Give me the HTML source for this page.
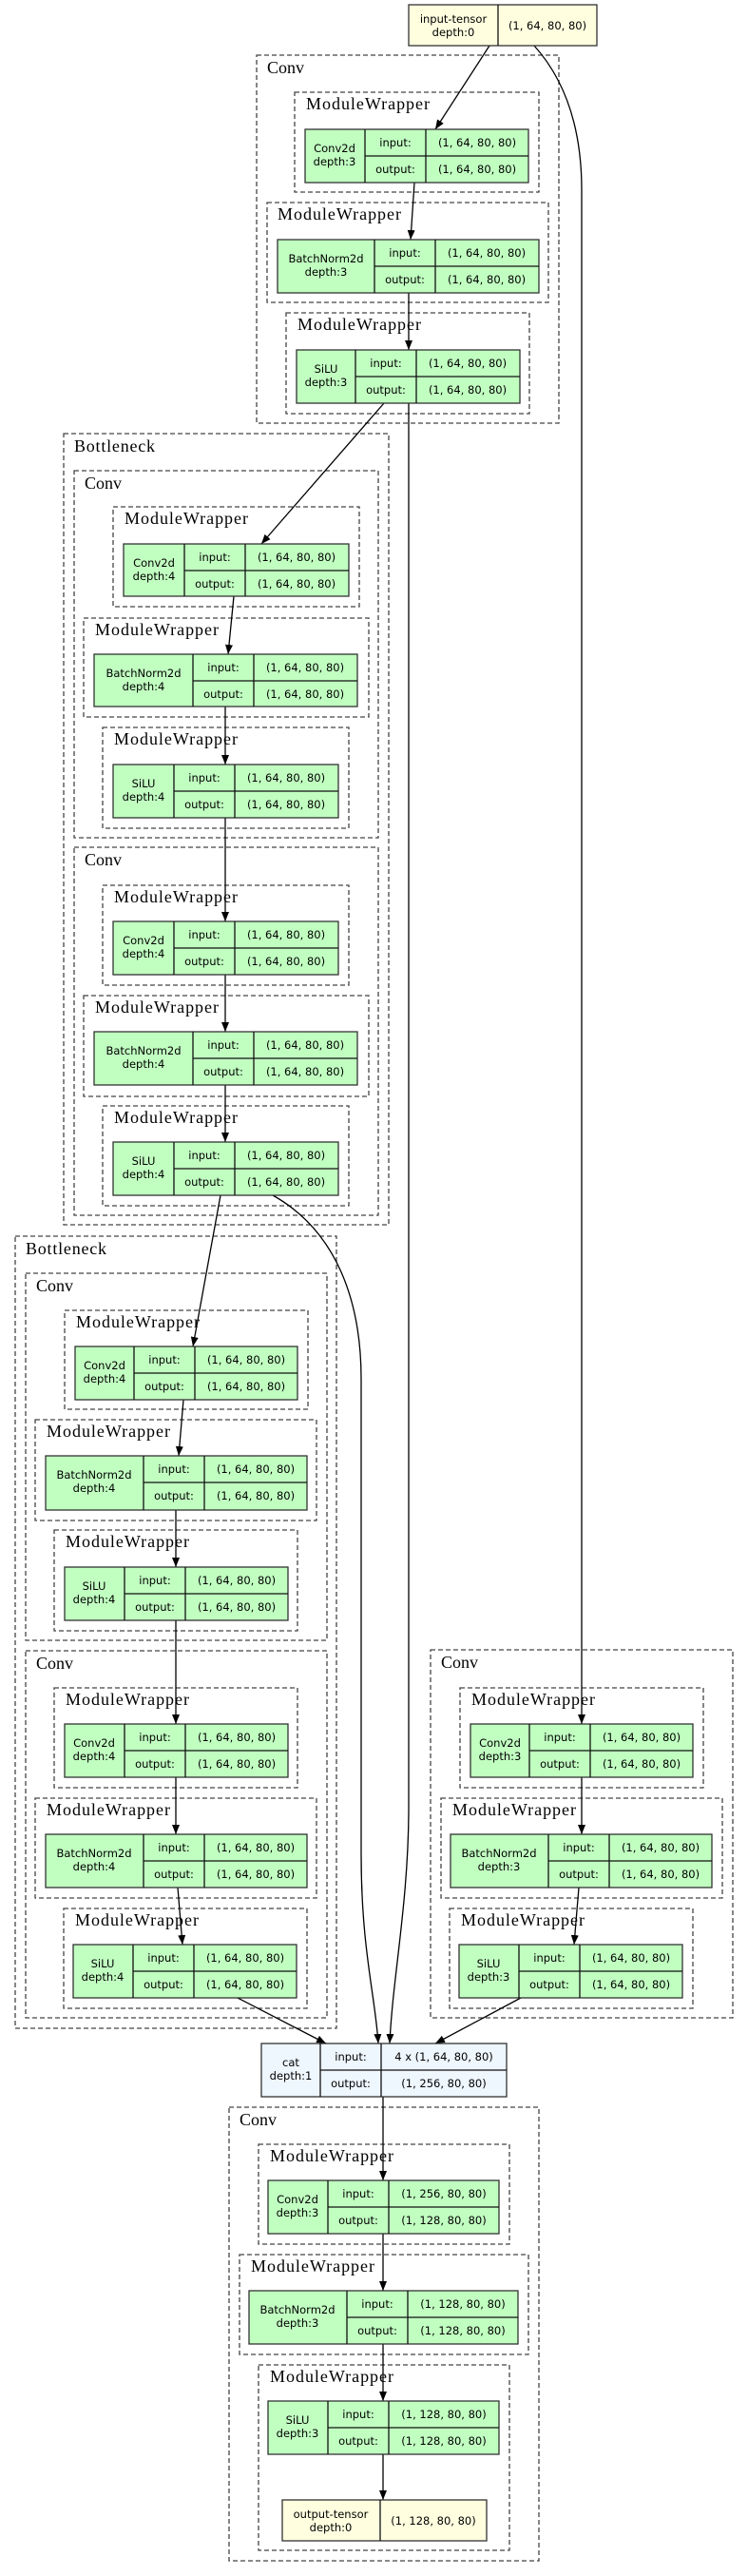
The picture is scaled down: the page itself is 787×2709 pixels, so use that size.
<!DOCTYPE html>
<html><head><meta charset="utf-8"><style>
html,body{margin:0;padding:0;background:#fff}
svg{display:block}
.cl{fill:none;stroke:#444;stroke-width:1.3;stroke-dasharray:5,3}
.ct{font-family:"Liberation Serif",serif;font-size:18px;fill:#000}
.nd{stroke:#333;stroke-width:1.3}
.dv{stroke:#111;stroke-width:1.3}
.t{font-family:"DejaVu Sans","Liberation Sans",sans-serif;font-size:11.5px;text-anchor:middle;fill:#000}
.e{fill:none;stroke:#000;stroke-width:1.3}
.g{fill:#c1ffc1}.y{fill:#ffffe0}.b{fill:#eef6fe}
</style></head><body>
<svg width="787" height="2709" viewBox="0 0 787 2709" xmlns="http://www.w3.org/2000/svg">
<defs><marker id="a" markerWidth="10" markerHeight="8" refX="10" refY="4" orient="auto" markerUnits="userSpaceOnUse"><path d="M0,0 L10,4 L0,8 z" fill="#000"/></marker></defs>

<!-- clusters -->
<rect class="cl" x="270" y="58" width="318" height="387"/><text class="ct" x="281" y="77">Conv</text>
<rect class="cl" x="310" y="97" width="257" height="105"/><text class="ct" x="322" y="115" textLength="130">ModuleWrapper</text>
<rect class="cl" x="281" y="213" width="296" height="105"/><text class="ct" x="292" y="231" textLength="130">ModuleWrapper</text>
<rect class="cl" x="301" y="329" width="256" height="106"/><text class="ct" x="313" y="347" textLength="130">ModuleWrapper</text>

<rect class="cl" x="67" y="456" width="342" height="832"/><text class="ct" x="78" y="475" textLength="85">Bottleneck</text>
<rect class="cl" x="78" y="495" width="320" height="386"/><text class="ct" x="89" y="514">Conv</text>
<rect class="cl" x="119" y="533" width="259" height="105"/><text class="ct" x="131" y="551" textLength="130">ModuleWrapper</text>
<rect class="cl" x="88" y="650" width="300" height="104"/><text class="ct" x="100" y="668" textLength="130">ModuleWrapper</text>
<rect class="cl" x="108" y="765" width="259" height="106"/><text class="ct" x="120" y="783" textLength="130">ModuleWrapper</text>
<rect class="cl" x="78" y="891" width="320" height="387"/><text class="ct" x="89" y="910">Conv</text>
<rect class="cl" x="108" y="931" width="259" height="105"/><text class="ct" x="120" y="949" textLength="130">ModuleWrapper</text>
<rect class="cl" x="88" y="1047" width="300" height="106"/><text class="ct" x="100" y="1065" textLength="130">ModuleWrapper</text>
<rect class="cl" x="108" y="1163" width="259" height="105"/><text class="ct" x="120" y="1181" textLength="130">ModuleWrapper</text>

<rect class="cl" x="16" y="1300" width="338" height="833"/><text class="ct" x="27" y="1319" textLength="85">Bottleneck</text>
<rect class="cl" x="27" y="1339" width="317" height="386"/><text class="ct" x="38" y="1358">Conv</text>
<rect class="cl" x="68" y="1378" width="256" height="104"/><text class="ct" x="80" y="1396" textLength="130">ModuleWrapper</text>
<rect class="cl" x="37" y="1493" width="296" height="106"/><text class="ct" x="49" y="1511" textLength="130">ModuleWrapper</text>
<rect class="cl" x="57" y="1609" width="256" height="106"/><text class="ct" x="69" y="1627" textLength="130">ModuleWrapper</text>
<rect class="cl" x="27" y="1736" width="317" height="386"/><text class="ct" x="38" y="1755">Conv</text>
<rect class="cl" x="57" y="1775" width="256" height="105"/><text class="ct" x="69" y="1793" textLength="130">ModuleWrapper</text>
<rect class="cl" x="37" y="1891" width="296" height="105"/><text class="ct" x="49" y="1909" textLength="130">ModuleWrapper</text>
<rect class="cl" x="67" y="2007" width="256" height="105"/><text class="ct" x="79" y="2025" textLength="130">ModuleWrapper</text>

<rect class="cl" x="453" y="1735" width="318" height="387"/><text class="ct" x="464" y="1754">Conv</text>
<rect class="cl" x="484" y="1775" width="256" height="105"/><text class="ct" x="496" y="1793" textLength="130">ModuleWrapper</text>
<rect class="cl" x="464" y="1891" width="296" height="105"/><text class="ct" x="476" y="1909" textLength="130">ModuleWrapper</text>
<rect class="cl" x="473" y="2007" width="256" height="105"/><text class="ct" x="485" y="2025" textLength="130">ModuleWrapper</text>

<rect class="cl" x="241" y="2216" width="326" height="477"/><text class="ct" x="252" y="2235">Conv</text>
<rect class="cl" x="272" y="2255" width="264" height="105"/><text class="ct" x="284" y="2273" textLength="130">ModuleWrapper</text>
<rect class="cl" x="252" y="2371" width="304" height="105"/><text class="ct" x="264" y="2389" textLength="130">ModuleWrapper</text>
<rect class="cl" x="272" y="2487" width="264" height="195"/><text class="ct" x="284" y="2505" textLength="130">ModuleWrapper</text>

<!-- edges -->
<g marker-end="url(#a)">
<path class="e" d="M515,48 L458,136"/>
<path class="e" d="M562,48 C598,88 612,140 612,200 L612,1813"/>
<path class="e" d="M436,192 L432,252"/>
<path class="e" d="M430,308 L430,368"/>
<path class="e" d="M404,424 L275,572"/>
<path class="e" d="M430,424 L430,1900 C430,2000 413,2080 410,2149"/>
<path class="e" d="M246,627 L240,688"/>
<path class="e" d="M237,743 L237,804"/>
<path class="e" d="M237,860 L237,969"/>
<path class="e" d="M237,1025 L237,1085"/>
<path class="e" d="M237,1141 L237,1201"/>
<path class="e" d="M232,1257 L203,1416"/>
<path class="e" d="M287,1257 C355,1295 380,1370 380,1450 L380,1950 C380,2050 395,2100 398,2149"/>
<path class="e" d="M193,1472 L188,1531"/>
<path class="e" d="M185,1588 L185,1648"/>
<path class="e" d="M185,1704 L185,1813"/>
<path class="e" d="M185,1869 L185,1929"/>
<path class="e" d="M187,1985 L192,2045"/>
<path class="e" d="M250,2101 L343,2149"/>
<path class="e" d="M612,1869 L612,1929"/>
<path class="e" d="M609,1985 L604,2045"/>
<path class="e" d="M548,2101 L458,2149"/>
<path class="e" d="M403,2205 L403,2293"/>
<path class="e" d="M403,2349 L403,2409"/>
<path class="e" d="M403,2465 L403,2525"/>
<path class="e" d="M403,2581 L403,2629"/>
</g>

<!-- input tensor -->
<rect class="nd y" x="430" y="5" width="198" height="43"/>
<line class="dv" x1="524" y1="5" x2="524" y2="48"/>
<text class="t" x="477" y="24">input-tensor</text><text class="t" x="477" y="38">depth:0</text>
<text class="t" x="576" y="31">(1, 64, 80, 80)</text>

<!-- node macro expanded: rect, dividers, texts -->
<!-- Top Conv -->
<g>
<rect class="nd g" x="321" y="136" width="235" height="56"/><line class="dv" x1="384" y1="136" x2="384" y2="192"/><line class="dv" x1="448" y1="136" x2="448" y2="192"/><line class="dv" x1="384" y1="164" x2="556" y2="164"/>
<text class="t" x="352" y="160">Conv2d</text><text class="t" x="352" y="174">depth:3</text><text class="t" x="416" y="154">input:</text><text class="t" x="416" y="182">output:</text><text class="t" x="502" y="154">(1, 64, 80, 80)</text><text class="t" x="502" y="182">(1, 64, 80, 80)</text>

<rect class="nd g" x="292" y="252" width="275" height="56"/><line class="dv" x1="394" y1="252" x2="394" y2="308"/><line class="dv" x1="458" y1="252" x2="458" y2="308"/><line class="dv" x1="394" y1="280" x2="567" y2="280"/>
<text class="t" x="343" y="276">BatchNorm2d</text><text class="t" x="343" y="290">depth:3</text><text class="t" x="426" y="270">input:</text><text class="t" x="426" y="298">output:</text><text class="t" x="512" y="270">(1, 64, 80, 80)</text><text class="t" x="512" y="298">(1, 64, 80, 80)</text>

<rect class="nd g" x="312" y="368" width="235" height="56"/><line class="dv" x1="374" y1="368" x2="374" y2="424"/><line class="dv" x1="438" y1="368" x2="438" y2="424"/><line class="dv" x1="374" y1="396" x2="547" y2="396"/>
<text class="t" x="343" y="392">SiLU</text><text class="t" x="343" y="406">depth:3</text><text class="t" x="406" y="386">input:</text><text class="t" x="406" y="414">output:</text><text class="t" x="492" y="386">(1, 64, 80, 80)</text><text class="t" x="492" y="414">(1, 64, 80, 80)</text>
</g>

<!-- Bottleneck 1 -->
<g>
<rect class="nd g" x="130" y="572" width="237" height="55"/><line class="dv" x1="194" y1="572" x2="194" y2="627"/><line class="dv" x1="258" y1="572" x2="258" y2="627"/><line class="dv" x1="194" y1="600" x2="367" y2="600"/>
<text class="t" x="162" y="596">Conv2d</text><text class="t" x="162" y="610">depth:4</text><text class="t" x="226" y="590">input:</text><text class="t" x="226" y="618">output:</text><text class="t" x="312" y="590">(1, 64, 80, 80)</text><text class="t" x="312" y="618">(1, 64, 80, 80)</text>

<rect class="nd g" x="99" y="688" width="277" height="55"/><line class="dv" x1="203" y1="688" x2="203" y2="743"/><line class="dv" x1="267" y1="688" x2="267" y2="743"/><line class="dv" x1="203" y1="716" x2="376" y2="716"/>
<text class="t" x="151" y="712">BatchNorm2d</text><text class="t" x="151" y="726">depth:4</text><text class="t" x="235" y="706">input:</text><text class="t" x="235" y="734">output:</text><text class="t" x="321" y="706">(1, 64, 80, 80)</text><text class="t" x="321" y="734">(1, 64, 80, 80)</text>

<rect class="nd g" x="119" y="804" width="237" height="56"/><line class="dv" x1="183" y1="804" x2="183" y2="860"/><line class="dv" x1="247" y1="804" x2="247" y2="860"/><line class="dv" x1="183" y1="832" x2="356" y2="832"/>
<text class="t" x="151" y="828">SiLU</text><text class="t" x="151" y="842">depth:4</text><text class="t" x="215" y="822">input:</text><text class="t" x="215" y="850">output:</text><text class="t" x="301" y="822">(1, 64, 80, 80)</text><text class="t" x="301" y="850">(1, 64, 80, 80)</text>

<rect class="nd g" x="119" y="969" width="237" height="56"/><line class="dv" x1="183" y1="969" x2="183" y2="1025"/><line class="dv" x1="247" y1="969" x2="247" y2="1025"/><line class="dv" x1="183" y1="997" x2="356" y2="997"/>
<text class="t" x="151" y="993">Conv2d</text><text class="t" x="151" y="1007">depth:4</text><text class="t" x="215" y="987">input:</text><text class="t" x="215" y="1015">output:</text><text class="t" x="301" y="987">(1, 64, 80, 80)</text><text class="t" x="301" y="1015">(1, 64, 80, 80)</text>

<rect class="nd g" x="99" y="1085" width="277" height="56"/><line class="dv" x1="203" y1="1085" x2="203" y2="1141"/><line class="dv" x1="267" y1="1085" x2="267" y2="1141"/><line class="dv" x1="203" y1="1113" x2="376" y2="1113"/>
<text class="t" x="151" y="1109">BatchNorm2d</text><text class="t" x="151" y="1123">depth:4</text><text class="t" x="235" y="1103">input:</text><text class="t" x="235" y="1131">output:</text><text class="t" x="321" y="1103">(1, 64, 80, 80)</text><text class="t" x="321" y="1131">(1, 64, 80, 80)</text>

<rect class="nd g" x="119" y="1201" width="237" height="56"/><line class="dv" x1="183" y1="1201" x2="183" y2="1257"/><line class="dv" x1="247" y1="1201" x2="247" y2="1257"/><line class="dv" x1="183" y1="1229" x2="356" y2="1229"/>
<text class="t" x="151" y="1225">SiLU</text><text class="t" x="151" y="1239">depth:4</text><text class="t" x="215" y="1219">input:</text><text class="t" x="215" y="1247">output:</text><text class="t" x="301" y="1219">(1, 64, 80, 80)</text><text class="t" x="301" y="1247">(1, 64, 80, 80)</text>
</g>

<!-- Bottleneck 2 -->
<g>
<rect class="nd g" x="79" y="1416" width="234" height="56"/><line class="dv" x1="141" y1="1416" x2="141" y2="1472"/><line class="dv" x1="205" y1="1416" x2="205" y2="1472"/><line class="dv" x1="141" y1="1444" x2="313" y2="1444"/>
<text class="t" x="110" y="1440">Conv2d</text><text class="t" x="110" y="1454">depth:4</text><text class="t" x="173" y="1434">input:</text><text class="t" x="173" y="1462">output:</text><text class="t" x="259" y="1434">(1, 64, 80, 80)</text><text class="t" x="259" y="1462">(1, 64, 80, 80)</text>

<rect class="nd g" x="48" y="1531" width="275" height="57"/><line class="dv" x1="151" y1="1531" x2="151" y2="1588"/><line class="dv" x1="215" y1="1531" x2="215" y2="1588"/><line class="dv" x1="151" y1="1559" x2="323" y2="1559"/>
<text class="t" x="99" y="1555">BatchNorm2d</text><text class="t" x="99" y="1569">depth:4</text><text class="t" x="183" y="1549">input:</text><text class="t" x="183" y="1577">output:</text><text class="t" x="269" y="1549">(1, 64, 80, 80)</text><text class="t" x="269" y="1577">(1, 64, 80, 80)</text>

<rect class="nd g" x="68" y="1648" width="235" height="56"/><line class="dv" x1="131" y1="1648" x2="131" y2="1704"/><line class="dv" x1="195" y1="1648" x2="195" y2="1704"/><line class="dv" x1="131" y1="1676" x2="303" y2="1676"/>
<text class="t" x="99" y="1672">SiLU</text><text class="t" x="99" y="1686">depth:4</text><text class="t" x="163" y="1666">input:</text><text class="t" x="163" y="1694">output:</text><text class="t" x="249" y="1666">(1, 64, 80, 80)</text><text class="t" x="249" y="1694">(1, 64, 80, 80)</text>

<rect class="nd g" x="68" y="1813" width="235" height="56"/><line class="dv" x1="131" y1="1813" x2="131" y2="1869"/><line class="dv" x1="195" y1="1813" x2="195" y2="1869"/><line class="dv" x1="131" y1="1841" x2="303" y2="1841"/>
<text class="t" x="99" y="1837">Conv2d</text><text class="t" x="99" y="1851">depth:4</text><text class="t" x="163" y="1831">input:</text><text class="t" x="163" y="1859">output:</text><text class="t" x="249" y="1831">(1, 64, 80, 80)</text><text class="t" x="249" y="1859">(1, 64, 80, 80)</text>

<rect class="nd g" x="48" y="1929" width="275" height="56"/><line class="dv" x1="151" y1="1929" x2="151" y2="1985"/><line class="dv" x1="215" y1="1929" x2="215" y2="1985"/><line class="dv" x1="151" y1="1957" x2="323" y2="1957"/>
<text class="t" x="99" y="1953">BatchNorm2d</text><text class="t" x="99" y="1967">depth:4</text><text class="t" x="183" y="1947">input:</text><text class="t" x="183" y="1975">output:</text><text class="t" x="269" y="1947">(1, 64, 80, 80)</text><text class="t" x="269" y="1975">(1, 64, 80, 80)</text>

<rect class="nd g" x="77" y="2045" width="235" height="56"/><line class="dv" x1="140" y1="2045" x2="140" y2="2101"/><line class="dv" x1="204" y1="2045" x2="204" y2="2101"/><line class="dv" x1="140" y1="2073" x2="312" y2="2073"/>
<text class="t" x="108" y="2069">SiLU</text><text class="t" x="108" y="2083">depth:4</text><text class="t" x="172" y="2063">input:</text><text class="t" x="172" y="2091">output:</text><text class="t" x="258" y="2063">(1, 64, 80, 80)</text><text class="t" x="258" y="2091">(1, 64, 80, 80)</text>
</g>

<!-- Right Conv -->
<g>
<rect class="nd g" x="495" y="1813" width="234" height="56"/><line class="dv" x1="557" y1="1813" x2="557" y2="1869"/><line class="dv" x1="621" y1="1813" x2="621" y2="1869"/><line class="dv" x1="557" y1="1841" x2="729" y2="1841"/>
<text class="t" x="526" y="1837">Conv2d</text><text class="t" x="526" y="1851">depth:3</text><text class="t" x="589" y="1831">input:</text><text class="t" x="589" y="1859">output:</text><text class="t" x="675" y="1831">(1, 64, 80, 80)</text><text class="t" x="675" y="1859">(1, 64, 80, 80)</text>

<rect class="nd g" x="474" y="1929" width="275" height="56"/><line class="dv" x1="577" y1="1929" x2="577" y2="1985"/><line class="dv" x1="641" y1="1929" x2="641" y2="1985"/><line class="dv" x1="577" y1="1957" x2="749" y2="1957"/>
<text class="t" x="525" y="1953">BatchNorm2d</text><text class="t" x="525" y="1967">depth:3</text><text class="t" x="609" y="1947">input:</text><text class="t" x="609" y="1975">output:</text><text class="t" x="695" y="1947">(1, 64, 80, 80)</text><text class="t" x="695" y="1975">(1, 64, 80, 80)</text>

<rect class="nd g" x="483" y="2045" width="235" height="56"/><line class="dv" x1="546" y1="2045" x2="546" y2="2101"/><line class="dv" x1="610" y1="2045" x2="610" y2="2101"/><line class="dv" x1="546" y1="2073" x2="718" y2="2073"/>
<text class="t" x="514" y="2069">SiLU</text><text class="t" x="514" y="2083">depth:3</text><text class="t" x="578" y="2063">input:</text><text class="t" x="578" y="2091">output:</text><text class="t" x="664" y="2063">(1, 64, 80, 80)</text><text class="t" x="664" y="2091">(1, 64, 80, 80)</text>
</g>

<!-- cat -->
<rect class="nd b" x="275" y="2149" width="258" height="56"/><line class="dv" x1="337" y1="2149" x2="337" y2="2205"/><line class="dv" x1="401" y1="2149" x2="401" y2="2205"/><line class="dv" x1="337" y1="2177" x2="533" y2="2177"/>
<text class="t" x="306" y="2173">cat</text><text class="t" x="306" y="2187">depth:1</text><text class="t" x="369" y="2167">input:</text><text class="t" x="369" y="2195">output:</text><text class="t" x="467" y="2167">4 x (1, 64, 80, 80)</text><text class="t" x="467" y="2195">(1, 256, 80, 80)</text>

<!-- bottom Conv -->
<g>
<rect class="nd g" x="282" y="2293" width="243" height="56"/><line class="dv" x1="345" y1="2293" x2="345" y2="2349"/><line class="dv" x1="409" y1="2293" x2="409" y2="2349"/><line class="dv" x1="345" y1="2321" x2="525" y2="2321"/>
<text class="t" x="313" y="2317">Conv2d</text><text class="t" x="313" y="2331">depth:3</text><text class="t" x="377" y="2311">input:</text><text class="t" x="377" y="2339">output:</text><text class="t" x="467" y="2311">(1, 256, 80, 80)</text><text class="t" x="467" y="2339">(1, 128, 80, 80)</text>

<rect class="nd g" x="262" y="2409" width="283" height="56"/><line class="dv" x1="365" y1="2409" x2="365" y2="2465"/><line class="dv" x1="429" y1="2409" x2="429" y2="2465"/><line class="dv" x1="365" y1="2437" x2="545" y2="2437"/>
<text class="t" x="313" y="2433">BatchNorm2d</text><text class="t" x="313" y="2447">depth:3</text><text class="t" x="397" y="2427">input:</text><text class="t" x="397" y="2455">output:</text><text class="t" x="487" y="2427">(1, 128, 80, 80)</text><text class="t" x="487" y="2455">(1, 128, 80, 80)</text>

<rect class="nd g" x="282" y="2525" width="243" height="56"/><line class="dv" x1="345" y1="2525" x2="345" y2="2581"/><line class="dv" x1="409" y1="2525" x2="409" y2="2581"/><line class="dv" x1="345" y1="2553" x2="525" y2="2553"/>
<text class="t" x="313" y="2549">SiLU</text><text class="t" x="313" y="2563">depth:3</text><text class="t" x="377" y="2543">input:</text><text class="t" x="377" y="2571">output:</text><text class="t" x="467" y="2543">(1, 128, 80, 80)</text><text class="t" x="467" y="2571">(1, 128, 80, 80)</text>

<rect class="nd y" x="297" y="2629" width="215" height="43"/><line class="dv" x1="400" y1="2629" x2="400" y2="2672"/>
<text class="t" x="348" y="2648">output-tensor</text><text class="t" x="348" y="2662">depth:0</text>
<text class="t" x="456" y="2655">(1, 128, 80, 80)</text>
</g>
</svg>
</body></html>
